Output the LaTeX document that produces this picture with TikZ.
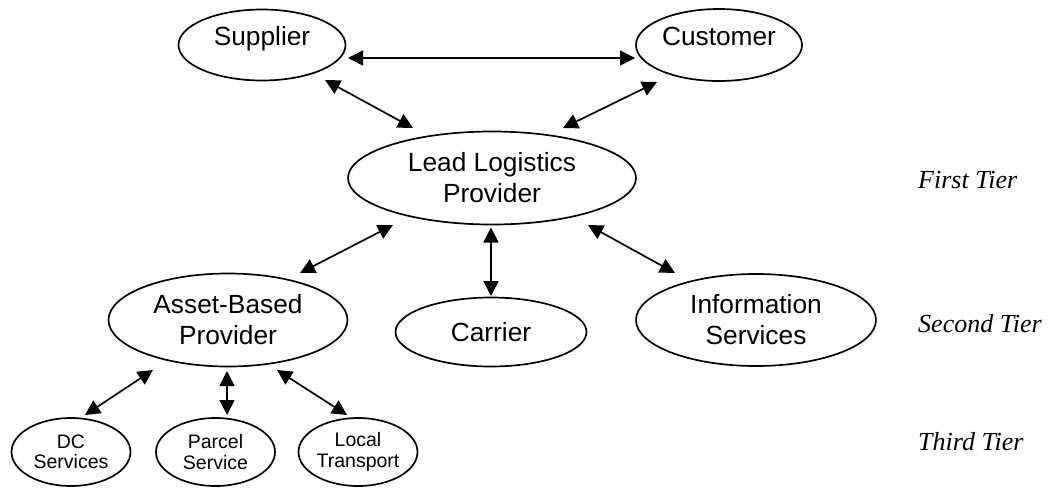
\documentclass[tikz,border=0pt]{standalone}
\usepackage{fontspec}
\setmainfont{Liberation Sans}
\newfontfamily\tierfont{Liberation Serif}
\usetikzlibrary{arrows.meta,shapes.geometric}
\begin{document}
\begin{tikzpicture}[x=1pt,y=-1pt,
  entity/.style={ellipse, draw, line width=1.7pt, inner sep=0pt, align=center,
    font=\fontsize{26.3}{31}\selectfont},
  small/.style={entity, font=\fontsize{19.5}{20.5}\selectfont,
    minimum width=119pt, minimum height=68pt},
  lbl/.style={inner sep=0pt, font=\fontsize{26.3}{31}\selectfont},
  biarrow/.style={line width=1.7pt,
    {Triangle[length=15pt,width=15pt]}-{Triangle[length=15pt,width=15pt]}},
  tier/.style={anchor=base west, inner sep=0pt,
    font=\fontsize{26}{30}\selectfont\tierfont\itshape}]

% canvas
\path[fill=white, use as bounding box] (0,0) rectangle (1051,488);

% top: trading partners
\node[entity, minimum width=167pt, minimum height=71pt] (sup) at (262,45) {};
\node[lbl, anchor=base] (suptext) at (sup.center) {Supplier};
\node[entity, minimum width=166pt, minimum height=72pt] (cus) at (719,45) {};
\node[lbl, anchor=base] (custext) at (cus.center) {Customer};

% first tier
\node[entity, minimum width=288pt, minimum height=93pt] (lead) at (492,178) {Lead Logistics\\Provider};

% second tier
\node[entity, minimum width=239pt, minimum height=93pt] (asset) at (228,320) {Asset-Based\\Provider};
\node[entity, minimum width=191pt, minimum height=69pt] (carrier) at (491,332) {Carrier};
\node[entity, minimum width=240pt, minimum height=92pt] (info) at (756,320) {Information\\Services};

% third tier
\node[small] (dc) at (71,452) {DC\\Services};
\node[small] (parcel) at (215.5,452) {Parcel\\Service};
\node[small] (local) at (358,452) {Local\\Transport};

% tier captions
\node[tier] (t1) at (918,188) {First Tier};
\node[tier] (t2) at (918,332) {Second Tier};
\node[tier] (t3) at (918,450) {Third Tier};

% two-way links
\draw[biarrow] ([shift={(86,13)}]sup.center) -- ([shift={(-84,13)}]cus.center);
\draw[biarrow] ([shift={(63,35)}]sup.center) -- ([shift={(-79,-50)}]lead.center);
\draw[biarrow] ([shift={(-62,37)}]cus.center) -- ([shift={(71,-50)}]lead.center);
\draw[biarrow] ([shift={(-99,47)}]lead.center) -- ([shift={(72,-47)}]asset.center);
\draw[biarrow] ([shift={(-1,49.5)}]lead.center) -- ([shift={(0,-36)}]carrier.center);
\draw[biarrow] ([shift={(96,47)}]lead.center) -- ([shift={(-81,-47)}]info.center);
\draw[biarrow] ([shift={(-75,50)}]asset.center) -- ([shift={(14,-37)}]dc.center);
\draw[biarrow] ([shift={(-1,51)}]asset.center) -- ([shift={(11.5,-37)}]parcel.center);
\draw[biarrow] ([shift={(49,50)}]asset.center) -- ([shift={(-11,-37)}]local.center);
\end{tikzpicture}
\end{document}
